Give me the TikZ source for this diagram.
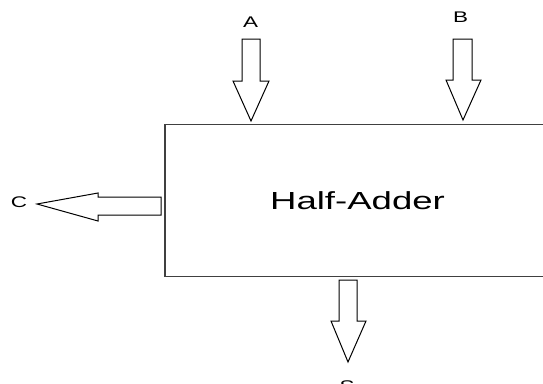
\documentclass[tikz,border=0pt]{standalone}
\usepackage{fontspec}
\setmainfont{Liberation Sans}
\begin{document}
\begin{tikzpicture}[x=1pt,y=-1pt,
  boxline/.style={draw=black!75,line width=1.4pt},
  arrowline/.style={draw=black,line width=1pt,line join=miter,fill=white},
  lbl/.style={inner sep=0pt,font=\fontsize{15.4}{16}\selectfont,xscale=1.46,transform shape},
  title/.style={inner sep=0pt,font=\fontsize{24.7}{26}\selectfont}
]
\useasboundingbox (0,0) rectangle (543,383);
% box (right edge falls outside the picture)
\node[boxline,minimum width=385pt,minimum height=152pt,inner sep=0pt,anchor=center] (ha) at (357.5,200.7) {};
\node[title] (t) at (357.5,200.5) {\scalebox{1.48}[1]{Half-Adder}};
% arrow A
\draw[arrowline] (242,39) -- (260,39) -- (260,81) -- (269,81) -- (251,121) -- (233,81) -- (242,81) -- cycle;
\node[inner sep=0pt,font=\fontsize{15.4}{16}\selectfont] (a) at (250.5,22) {\scalebox{1.46}[1]{A}};
% arrow B
\draw[arrowline] (453,39) -- (472,39) -- (472,80) -- (481,80) -- (463,120) -- (446,80) -- (453,80) -- cycle;
\node[inner sep=0pt,font=\fontsize{15.4}{16}\selectfont] (b) at (460.5,17.5) {\scalebox{1.46}[1]{B}};
% arrow C
\draw[arrowline] (161,197) -- (161,215) -- (98,215) -- (98,221) -- (37,204) -- (98,193) -- (98,197) -- cycle;
\node[inner sep=0pt,font=\fontsize{15.4}{16}\selectfont] (c) at (19,202.5) {\scalebox{1.46}[1]{C}};
% arrow S
\draw[arrowline] (339,280) -- (357,280) -- (357,321) -- (366,321) -- (348,362) -- (331,321) -- (339,321) -- cycle;
\node[inner sep=0pt,font=\fontsize{15.4}{16}\selectfont,anchor=north] (s) at (347,381) {\scalebox{1.46}[1]{S}};
\end{tikzpicture}
\end{document}
